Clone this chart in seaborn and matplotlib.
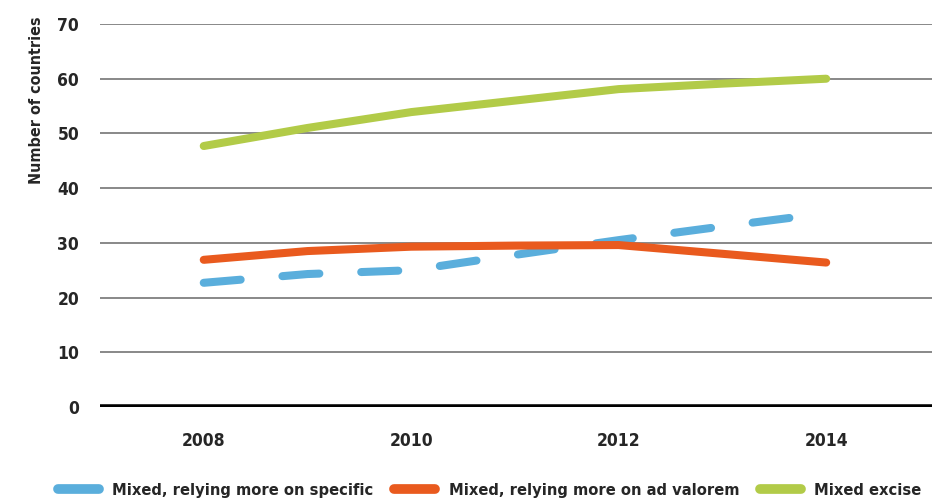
import matplotlib
matplotlib.use("Agg")
import matplotlib.pyplot as plt
from matplotlib.lines import Line2D
import seaborn as sns
import pandas as pd

# values
years = [2008, 2009, 2010, 2011, 2012, 2013, 2014]
specific = [22.7, 24.3, 25.0, 27.8, 30.5, 33.0, 35.4]
ad_valorem = [26.9, 28.5, 29.3, 29.5, 29.6, 28.0, 26.4]
mixed_excise = [47.7, 51.0, 53.9, 56.0, 58.1, 59.1, 60.0]

labels = ["Mixed, relying more on specific",
          "Mixed, relying more on ad valorem",
          "Mixed excise"]
colors = ["#5AAEDC", "#E95A1E", "#B2CB48"]

df = pd.DataFrame({"year": years, labels[0]: specific,
                   labels[1]: ad_valorem, labels[2]: mixed_excise})
long = df.melt(id_vars="year", var_name="series", value_name="countries")

sns.set_style("white")
# condensed bold face is the closest match to the original typeface
plt.rcParams['font.family'] = ['DejaVu Sans']
plt.rcParams['font.stretch'] = 'condensed'
plt.rcParams['font.weight'] = 'bold'

fig = plt.figure(figsize=(9.32, 4.99), dpi=100)
ax = fig.add_axes([100 / 932, 92 / 499, 832 / 932, 383 / 499])

# grid lines first so the series sit on top
for v in range(10, 71, 10):
    ax.axhline(v, color="#7f7f7f", lw=1.3, zorder=1)
ax.axhline(0, color="black", lw=4, zorder=3, solid_capstyle="butt")

for lab, col in zip(labels, colors):
    sub = long[long["series"] == lab]
    sns.lineplot(data=sub, x="year", y="countries", ax=ax, color=col,
                 lw=5.8, solid_capstyle="round", legend=False, zorder=4)
    line = ax.lines[-1]
    if lab == labels[0]:
        line.set_dashes((4.6, 5.2))
        line.set_dash_capstyle("round")

ax.set_xlim(2007.0, 2015.02)
ax.set_ylim(0, 70)
ax.set_xticks([2008, 2010, 2012, 2014])
ax.set_yticks(range(0, 71, 10))
ax.tick_params(axis="both", length=0, labelsize=12.5)
ax.tick_params(axis="y", pad=15)
ax.tick_params(axis="x", pad=18)
for t in ax.get_xticklabels() + ax.get_yticklabels():
    t.set_fontweight("bold")
ax.set_xlabel("")
ax.set_ylabel("Number of countries", fontsize=11.5, fontweight="bold")
ax.yaxis.set_label_coords(-0.067, 0.80)
sns.despine(ax=ax, left=True, bottom=True, top=True, right=True)

handles = [Line2D([0], [0], color=c, lw=7, solid_capstyle="round") for c in colors]
fig.legend(handles, labels, loc="center left", bbox_to_anchor=(0.055, 0.018),
           ncol=3, frameon=False, handlelength=2.5,
           handletextpad=0.8, columnspacing=1.3, borderaxespad=0,
           prop={"weight": "bold", "size": 11.8})

fig.savefig("out.png", dpi=100)
